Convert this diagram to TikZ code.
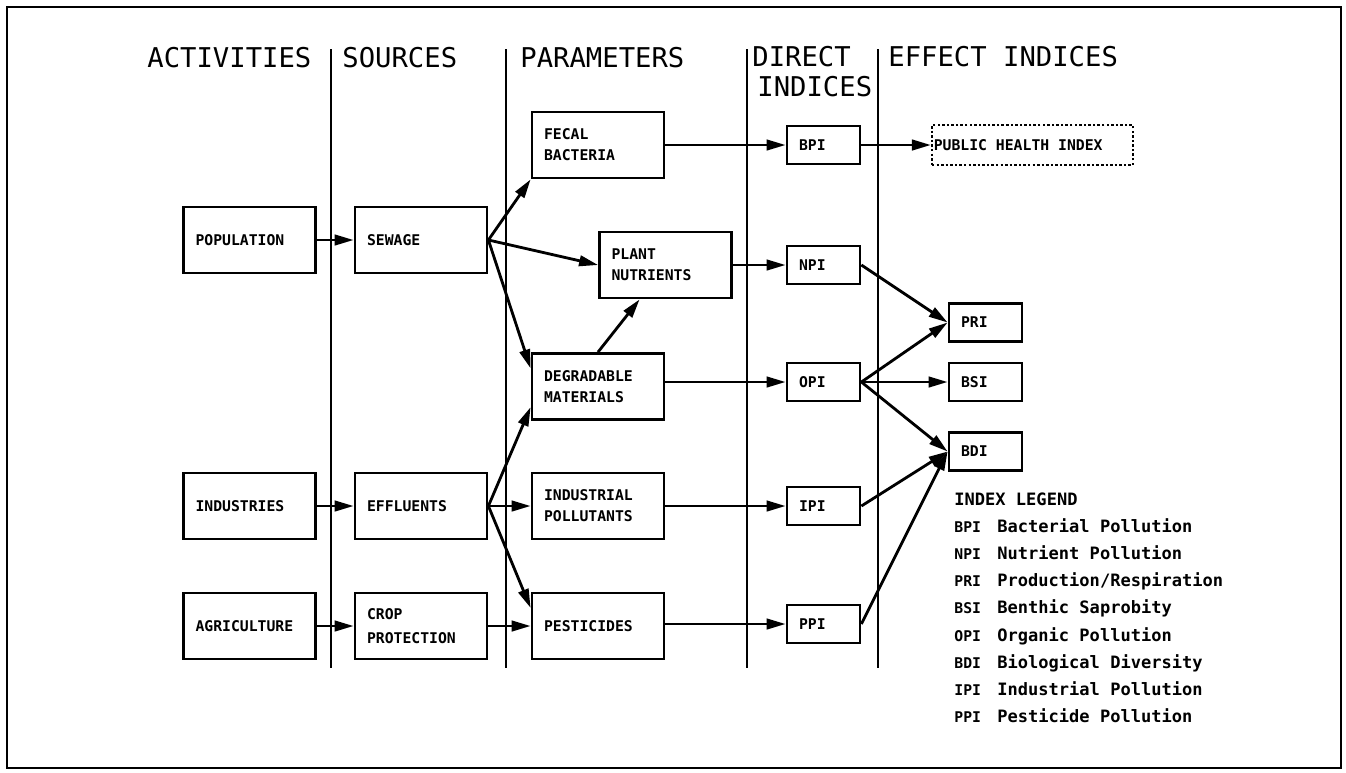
\documentclass[tikz,border=0pt]{standalone}
\usepackage{fontspec}
\setmonofont{DejaVu Sans Mono}
\usetikzlibrary{arrows.meta}

\begin{document}
\begin{tikzpicture}[x=0.02cm,y=-0.02cm,>={Triangle[length=3.8mm,width=2.1mm]},line width=1.6pt,
  box/.style={draw,rectangle,minimum width=2.64cm,minimum height=1.32cm,inner xsep=0.24cm,text width=2.16cm,align=left,font=\ttfamily\bfseries\fontsize{8.4}{11.9}\selectfont},
  idx/.style={box,minimum width=1.46cm,minimum height=0.76cm,text width=0.98cm},
  dotbox/.style={box,dash pattern=on 1.4pt off 1.2pt,line width=1.3pt,minimum width=4.02cm,minimum height=0.8cm,inner xsep=1pt,text width=3.95cm},
  head/.style={anchor=west,inner sep=0pt,font=\ttfamily\fontsize{15.5}{18}\selectfont},
  arr/.style={->}]

                    \useasboundingbox (0,0) rectangle (1346,772);
                    \draw (7,7) rectangle (1341,768);

                    \node[head] (h1) at (146,58) {ACTIVITIES};
                    \node[head] (h2) at (341,58) {SOURCES};
                    \node[head] (h3) at (519,58) {PARAMETERS};
                    \node[head] (h4) at (751,57) {DIRECT};
                    \node[head] (h5) at (756,87) {INDICES};
                    \node[head] (h6) at (887,57) {EFFECT INDICES};

                    \draw (331,49) -- (331,668);
                    \draw (506,49) -- (506,668);
                    \draw (747,49) -- (747,668);
                    \draw (878,49) -- (878,668);

                    \node[box]  (pop)   at (249.5,240) {POPULATION};
                    \node[box]  (ind)   at (249.5,506) {INDUSTRIES};
                    \node[box]  (agr)   at (249.5,626) {AGRICULTURE};

                    \node[box]  (sew)   at (421,240) {SEWAGE};
                    \node[box]  (eff)   at (421,506) {EFFLUENTS};
                    \node[box]  (crop)  at (421,626) {CROP\\[2pt]PROTECTION};

                    \node[box]  (fec)   at (598,145) {FECAL\\BACTERIA};
                    \node[box]  (plant) at (665.5,265) {PLANT\\NUTRIENTS};
                    \node[box]  (deg)   at (598,386.5) {DEGRADABLE\\MATERIALS};
                    \node[box]  (indp)  at (598,506) {INDUSTRIAL\\POLLUTANTS};
                    \node[box]  (pest)  at (598,626) {PESTICIDES};

                    \node[idx]  (bpi)   at (823.5,145) {BPI};
                    \node[idx]  (npi)   at (823.5,265) {NPI};
                    \node[idx]  (opi)   at (823.5,382) {OPI};
                    \node[idx]  (ipi)   at (823.5,506) {IPI};
                    \node[idx]  (ppi)   at (823.5,624) {PPI};

                    \node[dotbox] (phi) at (1032.5,145) {PUBLIC\hspace{5.06pt}HEALTH\hspace{5.06pt}INDEX};
                    \node[idx]  (pri)   at (985.5,322.5) {PRI};
                    \node[idx]  (bsi)   at (985.5,382) {BSI};
                    \node[idx]  (bdi)   at (985.5,451.5) {BDI};

                    \node[anchor=base west,inner sep=0pt,font=\ttfamily\bfseries\fontsize{9.7}{15.5}\selectfont] (legend) at (953,505)
                      {\begin{tabular}[t]{@{}p{0.86cm}@{}l@{}}
                        \multicolumn{2}{@{}l@{}}{INDEX LEGEND}\\
                        {\fontsize{8.4}{10}\selectfont BPI} & Bacterial Pollution\\
                        {\fontsize{8.4}{10}\selectfont NPI} & Nutrient Pollution\\
                        {\fontsize{8.4}{10}\selectfont PRI} & Production/Respiration\\
                        {\fontsize{8.4}{10}\selectfont BSI} & Benthic Saprobity\\
                        {\fontsize{8.4}{10}\selectfont OPI} & Organic Pollution\\
                        {\fontsize{8.4}{10}\selectfont BDI} & Biological Diversity\\
                        {\fontsize{8.4}{10}\selectfont IPI} & Industrial Pollution\\
                        {\fontsize{8.4}{10}\selectfont PPI} & Pesticide Pollution
                      \end{tabular}};

                    \draw[arr] (pop) -- (sew);
                    \draw[arr] (ind) -- (eff);
                    \draw[arr] (agr) -- (crop);
                    \draw[arr] (sew.east) -- (fec.south west);
                    \draw[arr] (sew.east) -- (plant.west);
                    \draw[arr] (sew.east) -- (deg.165);
                    \draw[arr] (eff.east) -- (deg.197);
                    \draw[arr] (eff) -- (indp);
                    \draw[arr] (eff.east) -- (pest.165);
                    \draw[arr] (crop) -- (pest);
                    \draw[arr] (deg.north) -- (plant.233);
                    \draw[arr] (fec) -- (bpi);
                    \draw[arr] (plant) -- (npi);
                    \draw[arr] (deg.east |- opi) -- (opi);
                    \draw[arr] (indp) -- (ipi);
                    \draw[arr] (pest.east |- ppi) -- (ppi);
                    \draw[arr] (bpi) -- (phi);
                    \draw[arr] (npi.east) -- (pri.west);
                    \draw[arr] (opi.east) -- (pri.west);
                    \draw[arr] (opi.east) -- (bsi.west);
                    \draw[arr] (opi.east) -- (bdi.west);
                    \draw[arr] (ipi.east) -- (bdi.west);
                    \draw[arr] (ppi.east) -- (bdi.west);

                \end{tikzpicture}
\end{document}
